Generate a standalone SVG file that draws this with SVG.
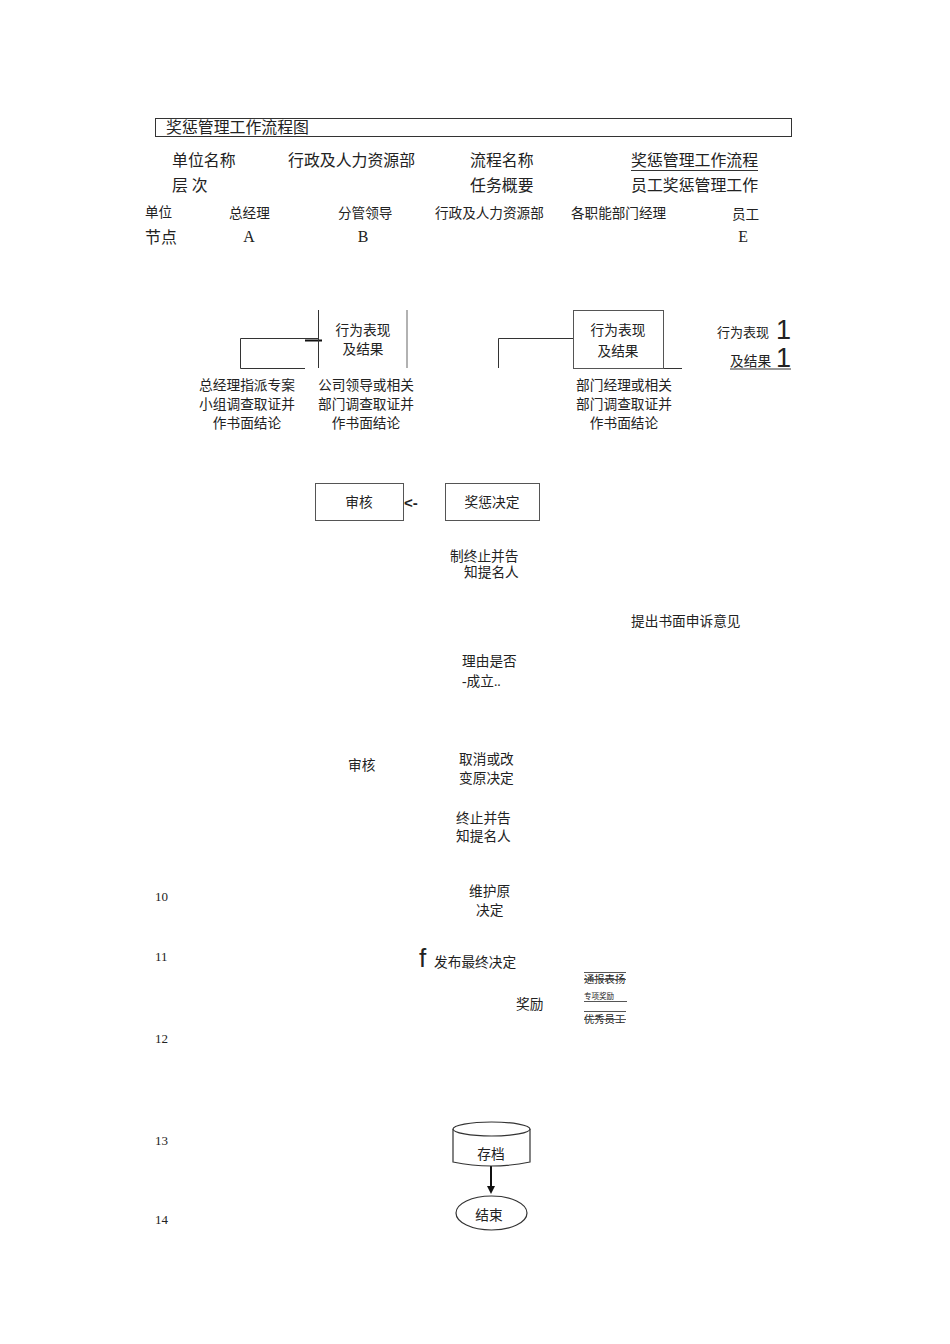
<svg xmlns="http://www.w3.org/2000/svg" width="950" height="1344" viewBox="0 0 950 1344">
<style>
text{font-family:"Liberation Serif","Noto Sans CJK SC",serif;fill:#222}
.h{font-size:15.9px}
.m{font-size:13.6px}
.s{font-size:13.7px}
.n{font-size:13px}
.c{text-anchor:middle}
.ln{stroke:#333;stroke-width:1;fill:none}
.g{stroke:#999;stroke-width:1.5;fill:none}
.bx{fill:#fff;stroke:#555;stroke-width:1}
</style>
<defs>
<marker id="ar" markerWidth="8" markerHeight="8" refX="5" refY="4" orient="auto" markerUnits="userSpaceOnUse">
<path d="M0,0 L8,4 L0,8 Z" fill="#111"/>
</marker>
</defs>
<rect width="950" height="1344" fill="#fff"/>
<g id="header">
<rect x="155.5" y="118.5" width="636" height="18" fill="none" stroke="#333"/>
<text class="h" x="166" y="133">奖惩管理工作流程图</text>
<text class="h" x="172" y="166">单位名称</text>
<text class="h" x="288" y="166">行政及人力资源部</text>
<text class="h" x="470" y="166">流程名称</text>
<text class="h" x="631" y="166">奖惩管理工作流程</text>
<line x1="631" y1="170.5" x2="758" y2="170.5" stroke="#333"/>
<text class="h" x="172" y="191">层 次</text>
<text class="h" x="470" y="191">任务概要</text>
<text class="h" x="631" y="191">员工奖惩管理工作</text>
<text class="m" x="145" y="217">单位</text>
<text class="m" x="229" y="218">总经理</text>
<text class="m" x="338" y="218">分管领导</text>
<text class="m" x="435" y="218">行政及人力资源部</text>
<text class="m" x="571" y="218">各职能部门经理</text>
<text class="m" x="732" y="219">员工</text>
<text class="h" x="145" y="243">节点</text>
<text class="h c" x="249" y="242">A</text>
<text class="h c" x="363" y="242">B</text>
<text class="h c" x="743" y="242">E</text>
</g>
<g id="connectors">
<polyline class="ln" points="305,368.5 240.5,368.5 240.5,338.5 318,338.5"/>
<line x1="305" y1="340.5" x2="322" y2="340.5" stroke="#111" stroke-width="2"/>
<line class="ln" x1="318.5" y1="310" x2="318.5" y2="368"/>
<line class="g" x1="407" y1="310" x2="407" y2="368"/>
<polyline class="ln" points="498.5,368 498.5,338.5 573,338.5"/>
<line class="ln" x1="663" y1="368.5" x2="682" y2="368.5"/>
<line x1="491" y1="1166" x2="491" y2="1191" stroke="#111" stroke-width="2" marker-end="url(#ar)"/>
</g>
<g id="node-b1">
<text class="s c" x="363" y="335">行为表现</text>
<text class="s c" x="363" y="354">及结果</text>
</g>
<g id="node-d1">
<rect class="bx" x="573.5" y="310.5" width="90" height="58"/>
<text class="s c" x="618" y="335">行为表现</text>
<text class="s c" x="618" y="356">及结果</text>
</g>
<g id="node-e1">
<text font-size="13" x="717" y="337">行为表现</text>
<text x="776" y="339" style="font-family:'Liberation Sans',sans-serif;font-size:27px">1</text>
<text class="s" x="730" y="366">及结果</text>
<text x="776" y="367" style="font-family:'Liberation Sans',sans-serif;font-size:27px">1</text>
<line x1="730" y1="369" x2="791" y2="369" stroke="#333"/>
</g>
<g id="label-a">
<text class="s c" x="247" y="390">总经理指派专案</text>
<text class="s c" x="247" y="409">小组调查取证并</text>
<text class="s c" x="247" y="428">作书面结论</text>
</g>
<g id="label-b">
<text class="s c" x="366" y="390">公司领导或相关</text>
<text class="s c" x="366" y="409">部门调查取证并</text>
<text class="s c" x="366" y="428">作书面结论</text>
</g>
<g id="label-d">
<text class="s c" x="624" y="390">部门经理或相关</text>
<text class="s c" x="624" y="409">部门调查取证并</text>
<text class="s c" x="624" y="428">作书面结论</text>
</g>
<g id="node-review1">
<rect class="bx" x="315.5" y="483.5" width="88" height="37"/>
<text class="s c" x="359" y="507">审核</text>
</g>
<text x="404" y="508" style="font-family:'Liberation Sans',sans-serif;font-size:15px;font-weight:bold">&lt;-</text>
<g id="node-decision">
<rect class="bx" x="445.5" y="483.5" width="94" height="37"/>
<text class="s c" x="492" y="507">奖惩决定</text>
</g>
<g id="node-terminate1">
<text class="s" x="450" y="561">制终止并告</text>
<text class="s" x="464" y="577">知提名人</text>
</g>
<g id="node-appeal">
<text class="s" x="631" y="626">提出书面申诉意见</text>
</g>
<g id="node-reason">
<text class="s" x="462" y="666">理由是否</text>
<text class="s" x="462" y="686">-成立..</text>
</g>
<g id="node-review2">
<text class="s" x="348" y="770">审核</text>
</g>
<g id="node-cancel">
<text class="s" x="459" y="764">取消或改</text>
<text class="s" x="459" y="783">变原决定</text>
</g>
<g id="node-terminate2">
<text class="s" x="456" y="823">终止并告</text>
<text class="s" x="456" y="841">知提名人</text>
</g>
<g id="node-maintain">
<text class="s" x="469" y="896">维护原</text>
<text class="s" x="476" y="915">决定</text>
</g>
<g id="node-publish">
<text x="419" y="967" style="font-family:'Liberation Sans',sans-serif;font-size:26px">f</text>
<text class="s" x="434" y="967">发布最终决定</text>
</g>
<g id="node-reward">
<text class="s" x="516" y="1009">奖励</text>
<line x1="584" y1="972.5" x2="626" y2="972.5" stroke="#555"/>
<text font-size="10.3" x="584" y="983">通报表扬</text>
<line x1="584" y1="979.5" x2="626" y2="979.5" stroke="#555"/>
<text font-size="7.5" x="584" y="999">专项奖励</text>
<line x1="584" y1="1001.5" x2="627" y2="1001.5" stroke="#555"/>
<line x1="584" y1="1011.5" x2="626" y2="1011.5" stroke="#555"/>
<text font-size="10.3" x="584" y="1023">优秀员工</text>
<line x1="584" y1="1019.5" x2="626" y2="1019.5" stroke="#555"/>
</g>
<g id="rownums">
<text class="n" x="155" y="901">10</text>
<text class="n" x="155" y="961">11</text>
<text class="n" x="155" y="1043">12</text>
<text class="n" x="155" y="1145">13</text>
<text class="n" x="155" y="1224">14</text>
</g>
<g id="node-archive">
<path d="M453,1129 L453,1162 Q491,1170 530,1162 L530,1129" fill="#fff" stroke="#333" stroke-width="1.2"/>
<ellipse cx="491.5" cy="1129" rx="38.5" ry="7" fill="#fff" stroke="#333" stroke-width="1.2"/>
<text class="s c" x="491" y="1159">存档</text>
</g>
<g id="node-end">
<ellipse cx="491.5" cy="1213" rx="35.5" ry="17" fill="#fff" stroke="#333" stroke-width="1.2"/>
<text class="s c" x="489" y="1220">结束</text>
</g>
</svg>
